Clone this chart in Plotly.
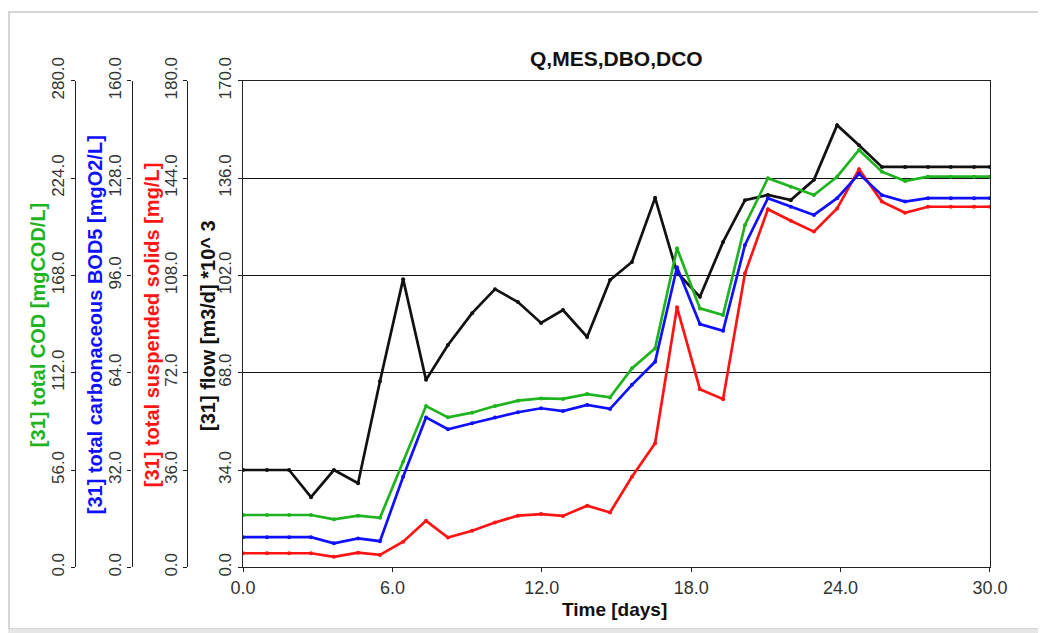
import plotly.graph_objects as go

# time axis [days] and the four series
time_days = [0.0, 0.96, 1.85, 2.73, 3.65, 4.62, 5.5, 6.43, 7.35, 8.23, 9.2, 10.12,
             11.04, 11.97, 12.85, 13.82, 14.74, 15.62, 16.55, 17.43, 18.35, 19.28,
             20.16, 21.08, 22.0, 22.93, 23.86, 24.74, 25.66, 26.59, 27.51, 28.43,
             29.36, 30.0]

flow = [34.0, 34.0, 34.0, 24.5, 34.0, 29.4, 65.0, 100.7, 65.5, 77.7, 88.8, 97.2,
        92.7, 85.4, 89.9, 80.5, 100.4, 106.7, 129.1, 103.0, 94.5, 113.7,
        128.3, 130.1, 128.3, 135.4, 154.5, 147.5, 139.9, 139.9, 139.9, 139.9,
        139.9, 139.9]

tss = [5.2, 5.2, 5.2, 5.2, 3.9, 5.4, 4.6, 9.5, 17.2, 11.0, 13.5, 16.6,
       19.1, 19.7, 19.0, 22.8, 20.3, 33.5, 45.9, 96.2, 65.9, 62.2,
       108.8, 132.5, 128.2, 124.2, 132.8, 147.3, 135.3, 131.2, 133.4, 133.4,
       133.4, 133.4]

bod5 = [9.9, 9.9, 9.9, 9.9, 7.9, 9.5, 8.6, 29.8, 49.3, 45.4, 47.4, 49.3,
        51.0, 52.3, 51.4, 53.4, 52.1, 60.0, 67.6, 98.7, 80.0, 77.8,
        106.0, 121.4, 118.6, 115.9, 121.4, 129.4, 122.4, 120.3, 121.4, 121.4,
        121.4, 121.4]

cod = [30.1, 30.1, 30.1, 30.1, 27.6, 29.7, 28.5, 60.8, 92.8, 86.3, 89.0, 92.8,
       95.9, 97.2, 96.9, 99.7, 97.8, 114.5, 126.0, 183.6, 149.0, 145.2,
       197.0, 223.9, 219.0, 214.3, 224.8, 240.2, 227.7, 222.3, 224.8, 224.8,
       224.8, 224.8]

GREEN = "#1fb41f"
BLUE = "#1010ff"
RED = "#ff1414"
BLACK = "#111111"
FONT = "Liberation Sans, Arial, sans-serif"

fig = go.Figure()

for y, color, axis in [(tss, RED, "y2"), (bod5, BLUE, "y3"), (cod, GREEN, "y4"), (flow, BLACK, "y")]:
    fig.add_trace(go.Scatter(
        x=time_days, y=y, yaxis=axis, mode="lines+markers",
        line=dict(color=color, width=2.7),
        marker=dict(color=color, size=4),
        showlegend=False,
    ))

# the page body has an 8px margin, positions below are shifted for it
ydom = [0.1164, 0.8850]
tickfont = dict(family=FONT, size=17, color="#333333")
side_axis = dict(
    domain=ydom, showgrid=False, zeroline=False, showline=True,
    linecolor="#222222", linewidth=1.3, ticks="outside", ticklen=4,
    tickcolor="#222222", tickangle=-90, tickformat=".1f", tickfont=tickfont,
    anchor="free", overlaying="y", side="left", automargin=False,
)

fig.update_layout(
    width=1046, height=633,
    margin=dict(l=0, r=0, t=0, b=0),
    paper_bgcolor="white", plot_bgcolor="white",
    font=dict(family=FONT, color="#333333"),
    xaxis=dict(
        domain=[0.2247, 0.9388], range=[0, 30], dtick=6, tickformat=".1f",
        showgrid=False, zeroline=False, showline=True, mirror=True,
        linecolor="#222222", linewidth=1.3, ticks="outside", ticklen=4,
        tickcolor="#222222", tickfont=dict(family=FONT, size=18, color="#333333"),
        automargin=False,
    ),
    yaxis=dict(
        domain=ydom, range=[0, 170], dtick=34, tickformat=".1f",
        showgrid=True, gridcolor="#111111", gridwidth=1.4, zeroline=False,
        showline=True, mirror=True, linecolor="#222222", linewidth=1.3,
        ticks="outside", ticklen=4, tickcolor="#222222", tickangle=-90,
        tickfont=tickfont, automargin=False,
    ),
    yaxis2=dict(side_axis, range=[0, 180], dtick=36, position=0.1716),
    yaxis3=dict(side_axis, range=[0, 160], dtick=32, position=0.1181),
    yaxis4=dict(side_axis, range=[0, 280], dtick=56, position=0.0641),
)

titles = [
    ("<b>[31] total COD [mgCOD/L]</b>", GREEN, 0.0287),
    ("<b>[31] total carbonaceous BOD5 [mgO2/L]</b>", BLUE, 0.0832),
    ("<b>[31] total suspended solids [mg/L]</b>", RED, 0.1377),
    ("<b>[31] flow [m3/d] *10^ 3</b>", BLACK, 0.1910),
]
for text, color, xpos in titles:
    fig.add_annotation(
        text=text, x=xpos, y=0.499, xref="paper", yref="paper",
        xanchor="center", yanchor="middle", textangle=-90, showarrow=False,
        font=dict(family=FONT, size=20, color=color),
    )

fig.add_annotation(
    text="<b>Q,MES,DBO,DCO</b>", x=0.5822, y=0.921, xref="paper", yref="paper",
    xanchor="center", yanchor="middle", showarrow=False,
    font=dict(family=FONT, size=21, color="#111111"),
)
fig.add_annotation(
    text="<b>Time [days]</b>", x=0.5803, y=0.049, xref="paper", yref="paper",
    xanchor="center", yanchor="middle", showarrow=False,
    font=dict(family=FONT, size=19, color="#111111"),
)

# screenshot frame around the chart
fig.add_shape(type="rect", xref="paper", yref="paper", x0=0.001, x1=1.01,
              y0=0.019, y1=0.9937, line=dict(color="#c8c8c8", width=1.5),
              layer="below")
fig.add_shape(type="rect", xref="paper", yref="paper", x0=0, x1=1,
              y0=0, y1=0.019, line=dict(width=0), fillcolor="#e6e6e6",
              layer="below")

fig.write_html("out.html")
